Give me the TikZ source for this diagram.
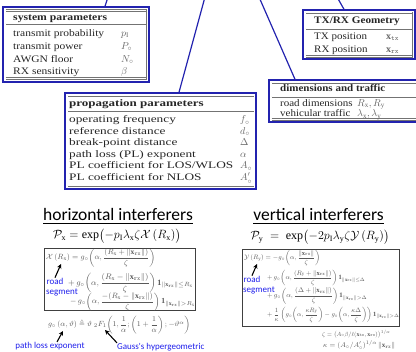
\documentclass[tikz,border=0pt]{standalone}
\usepackage{amsmath,amssymb}
\usepackage{graphicx}
\usepackage{fontspec}
\setmainfont{Liberation Serif}
\newfontfamily\calibri{Carlito}
\usetikzlibrary{arrows.meta}

\definecolor{frameblue}{RGB}{35,35,175}
\definecolor{labelblue}{RGB}{30,30,235}
\newcommand{\nrx}{\|\mathbf{x}_{\mathtt{rx}}\|}
\newcommand{\gfun}{g_{\circ}}
\newcommand{\hs}[2]{\scalebox{#1}[1]{#2}}
\newcommand{\fitw}[2]{\resizebox{#1}{!}{#2}}

\tikzset{
	frame/.style={draw=frameblue, line width=1.4pt, inner sep=0pt},
	fbox/.style={draw=black!75, line width=0.9pt, inner sep=0pt},
	link/.style={draw=frameblue, line width=1.2pt},
	rule/.style={draw=black!55, line width=0.6pt, double, double distance=1pt},
	side/.style={draw=black!55, line width=0.6pt},
	head/.style={anchor=base west, inner sep=0pt, font=\fontsize{10}{12}\selectfont\bfseries, text=black!85},
	item/.style={anchor=base west, inner sep=0pt, font=\fontsize{10}{12}\selectfont, text=black!85},
	val/.style={anchor=base west, inner sep=0pt, font=\fontsize{10}{12}\selectfont, text=black!60},
	title/.style={anchor=base, inner sep=0pt, font=\calibri\fontsize{17.5}{20}\selectfont},
	bigeq/.style={inner sep=0pt, font=\fontsize{12}{14}\selectfont},
	eq/.style={anchor=west, inner sep=0pt, text=black!65, font=\fontsize{8}{9}\selectfont},
	bluelabel/.style={inner sep=0pt, text=labelblue, font=\calibri\fontsize{9}{11}\selectfont},
	pointer/.style={-{Stealth[length=4.5pt,width=4.5pt]}, line width=1.1pt}
}

\begin{document}
\begin{tikzpicture}[x=1pt, y=-1pt]

	\useasboundingbox (0,0) rectangle (416,352);
	\clip (0,0) rectangle (416,352);

	% system parameters
	\node[frame, minimum width=146pt, minimum height=75pt] (sys) at (76,44.5) {};
	\draw[rule] (5.5,10.5) -- (146.5,10.5);
	\draw[rule] (5.5,24) -- (146.5,24);
	\draw[rule] (5.5,78.5) -- (146.5,78.5);
	\draw[side] (146.5,9.5) -- (146.5,79.5);
	\node[head] (sys-h) at (13,20.5) {\hs{1.17}{system parameters}};
	\foreach \t/\v [count=\i] in {transmit probability/p_{\mathrm{I}}, transmit power/P_{\circ}, AWGN floor/N_{\circ}, RX sensitivity/\beta}
	{
		\node[item] (sys-t\i) at (13, 23.7 + \i*12.8) {\hs{1.15}{\t}};
		\node[val] (sys-v\i) at (121, 23.7 + \i*12.8) {$\v$};
	}

	% propagation parameters
	\node[frame, minimum width=191pt, minimum height=96pt] (prop) at (160.5,141) {};
	\draw[rule] (67.5,96) -- (253.5,96);
	\draw[rule] (67.5,111) -- (253.5,111);
	\draw[rule] (67.5,186) -- (253.5,186);
	\node[head] (prop-h) at (69,107) {\hs{1.3}{propagation parameters}};
	\foreach \t/\v [count=\i] in {operating frequency/f_{\circ}, reference distance/d_{\circ}, break-point distance/\Delta, path loss (PL) exponent/\alpha, {PL coefficient for LOS/WLOS}/A_{\circ}, PL coefficient for NLOS/A'_{\circ}}
	{
		\node[item] (prop-t\i) at (69, 111 + \i*11.6) {\hs{1.33}{\t}};
		\node[val] (prop-v\i) at (240, 111 + \i*11.6) {$\v$};
	}

	% TX/RX geometry
	\node[frame, minimum width=112pt, minimum height=49pt] (txrx) at (359,34.5) {};
	\draw[rule] (305.5,13) -- (412.5,13);
	\draw[rule] (305.5,29) -- (412.5,29);
	\draw[rule] (305.5,56.5) -- (412.5,56.5);
	\draw[side] (412.5,12) -- (412.5,57.5);
	\node[head] (txrx-h) at (314,23.5) {\hs{1.12}{TX/RX Geometry}};
	\foreach \t/\v [count=\i] in {TX position/\mathbf{x}_{\mathtt{tx}}, RX position/\mathbf{x}_{\mathtt{rx}}}
	{
		\node[item] (txrx-t\i) at (314, 26.5 + \i*13) {\hs{1.1}{\t}};
		\node[val] (txrx-v\i) at (386, 26.5 + \i*13) {$\v$};
	}

	% dimensions and traffic
	\node[frame, minimum width=161pt, minimum height=42pt] (dims) at (349.5,101) {};
	\draw[rule] (271.5,83) -- (425,83);
	\draw[rule] (271.5,97) -- (425,97);
	\draw[rule] (271.5,119.5) -- (425,119.5);
	\node[head] (dims-h) at (280,92) {\hs{1.1}{dimensions and traffic}};
	\foreach \t/\v [count=\i] in {road dimensions/{R_{\mathrm{x}}, R_{\mathrm{y}}}, vehicular traffic/{\lambda_{\mathrm{x}}, \lambda_{\mathrm{y}}}}
	{
		\node[item] (dims-t\i) at (280, 96 + \i*10.5) {\hs{1.1}{\t}};
		\node[val] (dims-v\i) at (357, 96 + \i*10.5) {$\v$};
	}

	% links from above
	\coordinate (up1) at (108,-3);
	\coordinate (up2) at (205,-3);
	\coordinate (up3) at (259,-3);
	\coordinate (up4) at (337,-3);
	\draw[link] (up1) -- (105,0 |- sys.north);
	\draw[link] (up2) -- (179,0 |- prop.north);
	\draw[link] (up3) -- (295,0 |- dims.north);
	\draw[link] (up4) -- (344,0 |- txrx.north);

	% horizontal interferers
	\node[title] (htitle) at (118,220.5) {\underline{horizontal interferers}};
	\node[bigeq] (hP) at (117,236) {$\mathcal{P}_{\mathrm{x}} = \exp\bigl(-p_{\mathrm{I}}\lambda_{\mathrm{x}}\zeta\mathcal{X}\left(R_{\mathrm{x}}\right)\bigr)$};
	\node[fbox, minimum width=151pt, minimum height=62pt] (hbox) at (119.5,279) {};
	\node[eq] (hl1) at (46,258) {\fitw{109pt}{$\mathcal{X}\left(R_{\mathrm{x}}\right) = \gfun\!\left(\alpha, \dfrac{(R_{\mathrm{x}}+\nrx)}{\zeta}\right)$}};
	\node[eq] (hl2) at (68,283) {\fitw{125pt}{$+\,\gfun\!\left(\alpha, \dfrac{(R_{\mathrm{x}}-\nrx)}{\zeta}\right)\mathbf{1}_{\nrx\le R_{\mathrm{x}}}$}};
	\node[eq] (hl3) at (70,302) {\fitw{125pt}{$-\,\gfun\!\left(\alpha, \dfrac{-(R_{\mathrm{x}}-\nrx)}{\zeta}\right)\mathbf{1}_{\nrx> R_{\mathrm{x}}}$}};
	\node[bluelabel] (hroad) at (55,281) {road};
	\node[bluelabel] (hseg) at (62,292) {segment};
	\coordinate (hRx) at (61,264);
	\draw[pointer] (hroad.north) -- (hRx);

	\node[eq] (gdef) at (48,325) {\fitw{142pt}{$\gfun\left(\alpha,\vartheta\right)\triangleq\vartheta\;{}_2F_1\!\left(1,\dfrac{1}{\alpha};\left(1+\dfrac{1}{\alpha}\right);-\vartheta^{\alpha}\right)$}};
	\node[bluelabel] (ple) at (50,346) {path loss exponent};
	\node[bluelabel, anchor=west] (gauss) at (117,347) {Gauss's hypergeometric};
	\coordinate (alphaPt) at (63,331);
	\coordinate (hypPt) at (105,330);
	\draw[pointer] ([xshift=7pt]ple.north) -- (alphaPt);
	\draw[pointer] (gauss.north west) -- (hypPt);

	% vertical interferers
	\node[title] (vtitle) at (318.5,220.5) {\underline{vertical interferers}};
	\node[bigeq] (vP) at (320,237) {$\mathcal{P}_{\mathrm{y}} \;=\; \exp\bigl(-2p_{\mathrm{I}}\lambda_{\mathrm{y}}\zeta\mathcal{Y}\left(R_{\mathrm{y}}\right)\bigr)$};
	\node[fbox, minimum width=157pt, minimum height=77pt] (vbox) at (320.5,287.5) {};
	\node[eq] (vl1) at (244,258) {\fitw{76pt}{$\mathcal{Y}\left(R_{\mathrm{y}}\right) = -\gfun\!\left(\alpha, \dfrac{\nrx}{\zeta}\right)$}};
	\node[eq] (vl2) at (267,278) {\fitw{98pt}{$+\,\gfun\!\left(\alpha,\dfrac{(R_{\mathrm{y}}+\nrx)}{\zeta}\right)\mathbf{1}_{\nrx\le\Delta}$}};
	\node[eq] (vl3) at (267,296) {\fitw{100pt}{$+\,\gfun\!\left(\alpha,\dfrac{(\Delta+\nrx)}{\zeta}\right)\mathbf{1}_{\nrx>\Delta}$}};
	\node[eq] (vl4) at (267,315) {\fitw{132pt}{$+\,\dfrac{1}{\kappa}\left(\gfun\!\left(\alpha,\dfrac{\kappa R_{\mathrm{y}}}{\zeta}\right)-\gfun\!\left(\alpha,\dfrac{\kappa\Delta}{\zeta}\right)\right)\mathbf{1}_{\nrx>\Delta}$}};
	\node[bluelabel] (vroad) at (252,279) {road};
	\node[bluelabel] (vseg) at (259,290) {segment};
	\coordinate (vRy) at (257,264);
	\draw[pointer] (vroad.north) -- (vRy);

	\node[eq] (zeta) at (322,334) {\fitw{68pt}{$\zeta = \bigl(A_{\circ}\beta/\ell(\mathbf{x}_{\mathtt{tx}},\mathbf{x}_{\mathtt{rx}})\bigr)^{1/\alpha}$}};
	\node[eq] (kappa) at (323,345) {\fitw{72pt}{$\kappa = (A_{\circ}/A'_{\circ})^{1/\alpha}\,\nrx$}};

\end{tikzpicture}
\end{document}
